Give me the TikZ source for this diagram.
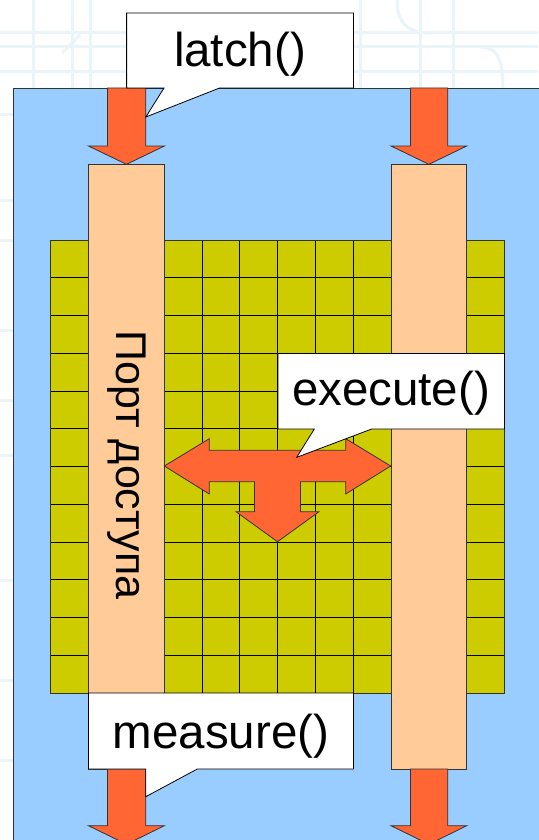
\documentclass[tikz,border=0pt]{standalone}
\usepackage{fontspec}
\setmainfont{Liberation Sans}
\definecolor{paneBlue}{HTML}{99CCFF}
\definecolor{cellOlive}{HTML}{CCCC00}
\definecolor{portPeach}{HTML}{FFCC99}
\definecolor{flowOrange}{HTML}{FF6633}
\definecolor{edgeGray}{HTML}{333333}
\definecolor{texLine}{HTML}{EAF5F9}
\tikzset{
  outlined/.style={draw=edgeGray, line width=0.8pt, line join=miter},
  flow/.style={outlined, fill=flowOrange},
  port/.style={outlined, fill=portPeach},
  callout/.style={draw=black, line width=0.8pt, fill=white},
  label/.style={font=\fontsize{47.5}{50}\selectfont, inner sep=0pt, anchor=base},
  faint/.style={draw=texLine, line width=3pt},
}
\begin{document}
\begin{tikzpicture}[x=1pt, y=-1pt]
  % page frame and faint background texture
  \fill[white] (0,0) rectangle (538,840);
  \useasboundingbox (0,0) rectangle (538,840);
  \foreach \yy in {33,47,72} \draw[faint] (0,\yy) -- (538,\yy);
  \foreach \xx in {33,72,90,360,420,453} \draw[faint] (\xx,0) -- (\xx,88);
  \draw[faint] (397,0) .. controls (397,20) and (405,33) .. (430,33);
  \draw[faint] (480,47) .. controls (495,47) and (503,55) .. (503,88);
  \draw[faint] (62,53) -- (80,35);
  \foreach \yy in {115,200,240,330,400,455,580,680,760} \draw[faint] (0,\yy) -- (13,\yy);

  % blue pane
  \path[fill=paneBlue, draw=edgeGray, line width=0.9pt] (13,88) rectangle (560,860);

  % 12 x 12 cell array
  \fill[cellOlive] (50.8,240) rectangle (504.4,693);
  \foreach \i in {1,...,11} {
    \draw[black, line width=0.7pt] ({50.8+37.8*\i},240) -- ({50.8+37.8*\i},693);
    \draw[black, line width=0.7pt] (50.8,{240+37.75*\i}) -- (504.4,{240+37.75*\i});
  }
  \draw[edgeGray, line width=0.8pt] (50.8,240) rectangle (504.4,693);

  % access ports
  \path[port] (88.5,164.3) rectangle (164.4,769) node[midway] (portL) {};
  \path[port] (391,164.3) rectangle (466.7,769) node[midway] (portR) {};

  % latch arrows into the ports
  \path[flow] (107.4,88) -- (145.8,88) -- (145.8,146) -- (164.4,146) -- (126.5,164.3)
     -- (88.5,146) -- (107.4,146) -- cycle;
  \path[flow] (410.4,88) -- (447.8,88) -- (447.8,146) -- (466.7,146) -- (428.9,164.3)
     -- (391,146) -- (410.4,146) -- cycle;

  % measure arrows out of the ports
  \path[flow] (107.4,769) -- (145.8,769) -- (145.8,825.7) -- (164.4,825.7) -- (126.5,844.3)
     -- (88.5,825.7) -- (107.4,825.7) -- cycle;
  \path[flow] (410.4,769) -- (447.8,769) -- (447.8,825.7) -- (466.7,825.7) -- (428.9,844.3)
     -- (391,825.7) -- (410.4,825.7) -- cycle;

  % three-way execute arrow
  \path[flow] (164.3,466) -- (209.3,438.7) -- (209.3,450.3) -- (345.7,450.3) -- (345.7,438.7)
     -- (390.7,466) -- (345.7,494) -- (345.7,481.7) -- (300.5,481.7) -- (300.5,511.7)
     -- (319,511.7) -- (277.5,541.7) -- (236,511.7) -- (254.5,511.7) -- (254.5,481.7)
     -- (209.3,481.7) -- (209.3,494) -- cycle;

  % callouts
  \path[callout] (126.6,13) -- (353.5,13) -- (353.5,88) -- (219.6,88) -- (145.8,117)
     -- (164,88) -- (126.6,88) -- cycle;
  \path[callout] (278,353.5) -- (504.4,353.5) -- (504.4,429) -- (371.7,429) -- (296.7,457.3)
     -- (314.3,429) -- (278,429) -- cycle;
  \path[callout] (88.5,693) -- (353.5,693) -- (353.5,769) -- (197.3,769) -- (145.8,796.7)
     -- (145.8,769) -- (88.5,769) -- cycle;

  % labels
  \node[label] (latch) at (240,66.7) {latch()};
  \node[label] (exec) at (391,405) {execute()};
  \node[label] (meas) at (221,748.3) {measure()};
  \node[font=\fontsize{43}{46}\selectfont, inner sep=0pt, rotate=-90] (portText)
     at (126.5,465) {Порт доступа};
\end{tikzpicture}
\end{document}
